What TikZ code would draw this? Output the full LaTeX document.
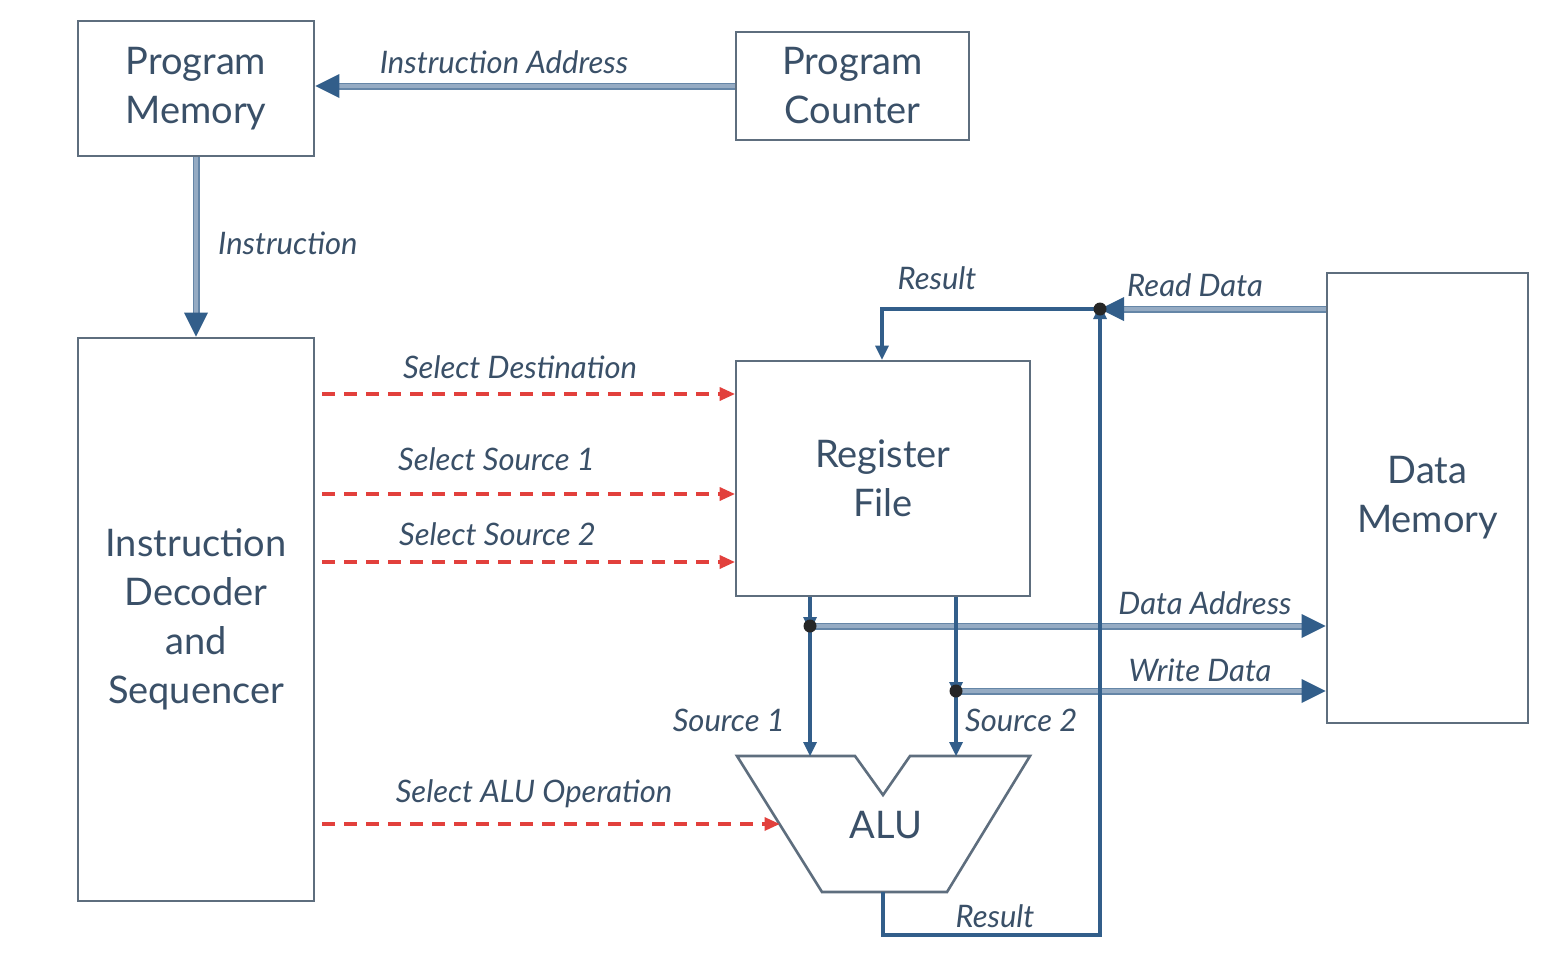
\documentclass[tikz,border=0pt]{standalone}
\usepackage{fontspec}
\setmainfont{Lato}
\usetikzlibrary{arrows.meta}
\definecolor{boxc}{HTML}{5E6E7E}
\definecolor{linec}{HTML}{325E8A}
\definecolor{fatc}{HTML}{95ABC3}
\definecolor{txt}{HTML}{3A5068}
\definecolor{redc}{HTML}{E2403C}
\begin{document}
\begin{tikzpicture}[x=1pt,y=-1pt,
  box/.style={draw=boxc, line width=2.6pt, fill=white, text=txt,
    font=\fontsize{38}{49}\selectfont, align=center, inner sep=0pt},
  lab/.style={text=txt, font=\fontsize{31}{34}\selectfont\itshape, inner sep=0pt},
  fat/.style={draw=linec!75, double=fatc, double distance=3.4pt, line width=1.8pt,
    -{Triangle[length=24pt,width=24pt,fill=linec,line width=0pt]}},
  sig/.style={draw=linec, line width=3.4pt,
    -{Triangle[length=14pt,width=14pt,fill=linec,line width=0pt]}},
  ctl/.style={draw=redc, line width=3.4pt, dash pattern=on 13pt off 9pt,
    -{Triangle[length=15pt,width=14pt,fill=redc,line width=0pt]}},
  dot/.style={fill=black!85}
]
\path[fill=white] (0,0) rectangle (1567,962);
\useasboundingbox (0,0) rectangle (1567,962);

% boxes
\node[box, minimum width=236pt, minimum height=135pt] (pm) at (196,88.5) {Program\\Memory};
\node[box, minimum width=233pt, minimum height=108pt] (pc) at (852.5,86) {Program\\Counter};
\node[box, minimum width=236pt, minimum height=563pt] (dec) at (196,619.5) {Instruction\\Decoder\\and\\Sequencer};
\node[box, minimum width=294pt, minimum height=235pt] (rf) at (883,478.5) {Register\\File};
\node[box, minimum width=201pt, minimum height=450pt] (dm) at (1427.5,498) {Data\\Memory};

% ALU
\draw[draw=boxc, line width=2.6pt, fill=white] (737,756) -- (855,756) -- (883,795) -- (910,756)
  -- (1030,756) -- (947,892) -- (822,892) -- cycle;
\node[text=txt, font=\fontsize{38}{40}\selectfont, inner sep=0pt] (alu) at (886,825) {ALU};

% coordinates
\coordinate (jr) at (1100,309);
\coordinate (j1) at (810,626);
\coordinate (j2) at (956,691);
\coordinate (rx) at (882,309);
\coordinate (a1) at (810,756);
\coordinate (a2) at (956,756);
\coordinate (aop) at (779.5,824);
\coordinate (aout) at (883,892);
\coordinate (rb) at (1100,935);
\coordinate (yd) at (0,394);
\coordinate (ys1) at (0,494);
\coordinate (ys2) at (0,562);
\coordinate (xs) at (322,0);

% fat buses
\draw[fat] (pc.west) -- (pc.west -| pm.east);
\draw[fat] (pm.south) -- (dec.north);
\draw[fat] (jr -| dm.west) -- (jr);
\draw[fat] (j1) -- (j1 -| dm.west);
\draw[fat] (j2) -- (j2 -| dm.west);

% signals
\draw[sig] (jr) -| (rf.north -| rx);
\draw[sig, shorten >=1pt] (aout) |- (rb) -- ([yshift=5pt]jr);
\draw[sig] (rf.south -| j1) -- ([yshift=-5pt]j1);
\draw[sig] (j1) -- (a1);
\draw[sig] (rf.south -| j2) -- ([yshift=-5pt]j2);
\draw[sig] (j2) -- (a2);

% control
\draw[ctl] (xs |- yd) -- (rf.west |- yd);
\draw[ctl] (xs |- ys1) -- (rf.west |- ys1);
\draw[ctl] (xs |- ys2) -- (rf.west |- ys2);
\draw[ctl] (xs |- aop) -- (aop);

% dots
\fill[dot] (jr) circle (6.5pt);
\fill[dot] (j1) circle (6.5pt);
\fill[dot] (j2) circle (6.5pt);

% labels
\node[lab] (l1) at (504,62) {Instruction Address};
\node[lab, anchor=west] (l2) at (218,243) {Instruction};
\node[lab] (l3) at (937,278) {Result};
\node[lab] (l4) at (1195,285) {Read Data};
\node[lab] (l5) at (520,367) {Select Destination};
\node[lab, anchor=west] (l6) at (398,459) {Select Source 1};
\node[lab, anchor=west] (l7) at (399,534) {Select Source 2};
\node[lab] (l8) at (1205,603) {Data Address};
\node[lab] (l9) at (1200,670) {Write Data};
\node[lab, anchor=east] (l10) at (785,720) {Source 1};
\node[lab, anchor=west] (l11) at (965,720) {Source 2};
\node[lab] (l12) at (534,794) {Select ALU Operation};
\node[lab] (l13) at (995,916) {Result};
\end{tikzpicture}
\end{document}
